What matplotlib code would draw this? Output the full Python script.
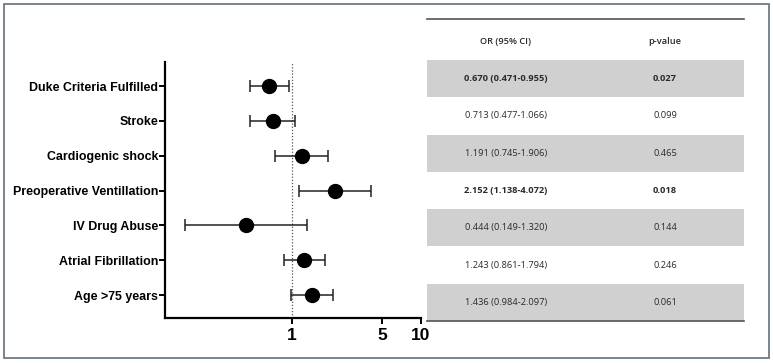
import matplotlib
matplotlib.use("Agg")
import matplotlib.pyplot as plt
from matplotlib.patches import Rectangle
from matplotlib.ticker import FixedLocator, FixedFormatter, NullLocator

# ---- data ----
labels = ["Duke Criteria Fulfilled", "Stroke", "Cardiogenic shock",
          "Preoperative Ventillation", "IV Drug Abuse", "Atrial Fibrillation",
          "Age >75 years"]
or_vals = [0.670, 0.713, 1.191, 2.152, 0.444, 1.243, 1.436]
ci_low = [0.471, 0.477, 0.745, 1.138, 0.149, 0.861, 0.984]
ci_high = [0.955, 1.066, 1.906, 4.072, 1.320, 1.794, 2.097]
p_values = ["0.027", "0.099", "0.465", "0.018", "0.144", "0.246", "0.061"]
significant = [True, False, False, True, False, False, False]
x_ticks = [1, 5, 10]
x_ticklabels = ["1", "5", "10"]
table_header = ["OR (95% CI)", "p-value"]

W, H = 773, 363
fig = plt.figure(figsize=(W / 100, H / 100), dpi=100)

# ---- background / table axes in pixel coords ----
bg = fig.add_axes([0, 0, 1, 1])
bg.set_xlim(0, W)
bg.set_ylim(H, 0)
bg.axis("off")
bg.add_patch(Rectangle((3.5, 4), 765.5, 353.5, fill=False, ec="#6f7c86", lw=1.3))

tx0, tx1 = 427, 744
ty_top, ty_bottom = 60, 321
row_h = (ty_bottom - ty_top) / len(labels)
col1_x, col2_x = 506, 665
tfont = dict(family=["Open Sans", "DejaVu Sans"], fontsize=6.7, color="#2a2a2a")

bg.plot([tx0, tx1], [19, 19], color="#555555", lw=1.2)
bg.plot([tx0, tx1], [ty_bottom, ty_bottom], color="#555555", lw=1.2)
bg.text(col1_x, 41.5, table_header[0], ha="center", va="center", fontweight="semibold", **tfont)
bg.text(col2_x, 41.5, table_header[1], ha="center", va="center", fontweight="semibold", **tfont)
for i in range(len(labels)):
    y0 = ty_top + i * row_h
    if i % 2 == 0:
        bg.add_patch(Rectangle((tx0, y0), tx1 - tx0, row_h, color="#d0d0d0", lw=0))
    yc = y0 + row_h / 2
    w = "bold" if significant[i] else "normal"
    s = f"{or_vals[i]:.3f} ({ci_low[i]:.3f}-{ci_high[i]:.3f})"
    bg.text(col1_x, yc, s, ha="center", va="center", fontweight=w, **tfont)
    bg.text(col2_x, yc, p_values[i], ha="center", va="center", fontweight=w, **tfont)

# ---- forest plot ----
left, right, top, bottom = 165, 421, 62, 318
ax = fig.add_axes([left / W, 1 - bottom / H, (right - left) / W, (bottom - top) / H])
ax.patch.set_alpha(0)
ys = list(range(len(labels)))
xerr = [[o - l for o, l in zip(or_vals, ci_low)], [h - o for o, h in zip(or_vals, ci_high)]]
ax.errorbar(or_vals, ys, xerr=xerr, fmt="o", color="black", ms=10,
            ecolor="#222222", elinewidth=1.1, capsize=4, capthick=1.1, zorder=3)
ax.axvline(1, color="#555555", lw=0.9, ls=(0, (1, 1.5)), zorder=1)
ax.set_xscale("log")
ax.set_xlim(0.104, 10)
ax.set_ylim(6.66, -0.69)
ax.xaxis.set_major_locator(FixedLocator(x_ticks))
ax.xaxis.set_major_formatter(FixedFormatter(x_ticklabels))
ax.xaxis.set_minor_locator(NullLocator())
ax.set_yticks(ys)
ax.set_yticklabels(labels, family=["Liberation Sans", "DejaVu Sans"],
                   fontweight="bold", fontsize=8.9)
for t in ax.get_xticklabels():
    t.set_fontweight("bold")
    t.set_fontsize(12.5)
    t.set_family(["Liberation Sans", "DejaVu Sans"])
for s in ["top", "right"]:
    ax.spines[s].set_visible(False)
for s in ["left", "bottom"]:
    ax.spines[s].set_linewidth(1.6)
ax.tick_params(axis="both", width=1.4, length=4.5, color="black")
ax.tick_params(axis="x", pad=3)
ax.tick_params(axis="y", pad=0.5)

fig.savefig("out.png", dpi=100)
